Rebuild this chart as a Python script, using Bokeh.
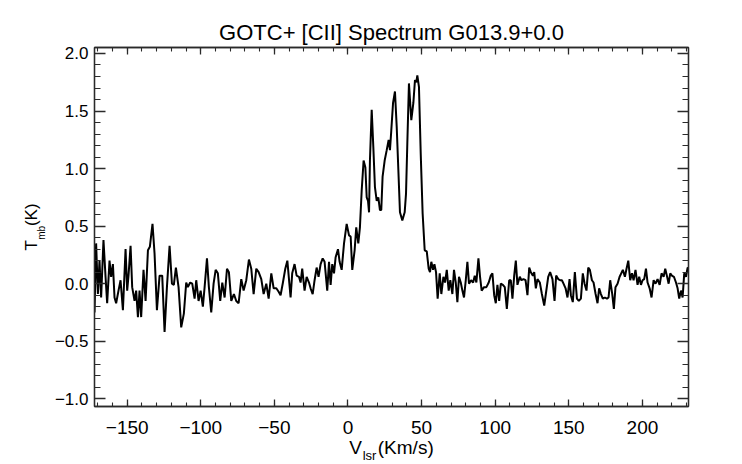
import math
from bokeh.plotting import figure
from bokeh.models import Range1d, LinearAxis, SingleIntervalTicker, CustomJSTickFormatter, Label
from bokeh.embed import file_html
from bokeh.resources import INLINE

# ---- data (V_lsr in km/s, T_mb in K) ----
velocity = [
    -172.2, -171.1, -169.9, -168.8, -167.7, -166.1, -164.7, -163.6, -162.0, -160.9,
    -159.7, -158.6, -157.5, -155.9, -154.5, -152.9, -151.1, -150.0, -149.1, -147.7,
    -146.6, -145.0, -143.9, -142.7, -141.6, -140.5, -138.9, -137.5, -135.9, -134.6,
    -132.8, -131.4, -129.8, -128.0, -126.2, -124.6, -123.0, -121.2, -119.6, -118.3,
    -116.9, -115.1, -113.3, -111.5, -109.9, -108.8, -107.2, -105.8, -104.2, -103.1,
    -101.5, -100.1, -98.6, -97.4, -95.8, -94.5, -92.9, -91.3, -89.9, -88.4,
    -86.8, -85.4, -83.8, -82.2, -80.9, -79.3, -77.5, -75.9, -74.3, -72.5,
    -70.9, -69.1, -67.3, -65.7, -64.1, -62.3, -60.7, -58.9, -57.3, -55.5,
    -53.9, -52.1, -50.5, -48.7, -47.1, -45.8, -44.2, -42.6, -41.2,
    -39.0, -37.9, -36.3, -34.9, -33.3, -32.2, -31.1, -29.5, -28.1, -26.5,
    -25.4, -24.0, -22.7, -21.3, -20.0, -18.6, -17.2, -15.9, -14.1, -12.9,
    -11.8, -10.7, -9.5, -8.4, -6.8, -5.7, -4.3, -2.7, -0.9, 0.7,
    1.8, 2.9, 4.5, 5.6, 7.0, 8.1, 9.3, 10.6, 11.8, 12.7,
    13.6, 14.3, 14.9, 16.1, 17.2, 18.3, 19.5, 20.6, 21.7, 22.6,
    23.5, 24.9, 26.3, 27.6, 28.5, 29.4, 30.6, 31.9, 33.1, 34.2,
    35.3, 36.9, 38.5, 39.4, 40.3, 41.4, 43.0, 44.4, 45.5, 46.4,
    47.1, 48.2, 49.4, 50.7, 52.1, 53.5, 54.8, 55.7, 56.6, 57.8,
    58.7, 59.8, 60.9, 62.3, 63.4, 64.8, 65.9, 67.1, 68.4, 69.5,
    70.9, 72.0, 73.2, 74.3, 75.4, 76.6, 77.7, 78.8, 80.0, 81.1,
    82.2, 83.6, 85.0, 86.1, 87.2, 88.6, 89.7, 90.8, 92.4, 94.0,
    95.6,
    97.0, 98.1, 99.3, 100.4, 101.5, 102.7, 103.8, 105.2, 106.5, 107.9,
    109.5, 110.6, 111.7, 112.9, 114.0, 115.1, 116.7, 117.8, 119.2, 120.6,
    121.9, 123.1, 124.2, 125.6, 126.5, 127.6, 128.7, 130.3, 131.7, 133.3,
    134.6, 136.0, 137.3, 138.9, 140.3, 141.4, 142.8, 144.1, 145.3, 146.4,
    147.8, 149.1, 150.5, 151.4, 152.7, 154.1, 155.5, 156.8, 158.2, 159.5,
    160.7, 162.0, 163.2, 164.3, 165.7, 166.8, 168.2, 169.5, 170.6, 171.8,
    173.1, 174.5, 175.9, 177.0, 178.1, 179.5, 180.6, 181.7, 183.1, 184.5,
    185.6, 186.7, 188.1, 189.2, 190.4, 191.7, 192.9, 194.0, 195.3, 196.7,
    197.8, 199.0, 200.1, 201.2, 202.4, 203.5, 204.9, 206.2, 207.6, 208.9,
    210.3, 211.7, 213.0, 214.4, 215.5, 216.6, 217.8, 218.9, 220.0, 221.4,
    222.8, 223.9, 225.0, 226.2, 227.3, 228.4, 229.6, 230.7, 232.1,
]
tmb = [
    -0.25, 0.35, -0.09, 0.20, -0.12, 0.38, 0.06, -0.17, 0.20, 0.06,
    0.17, -0.12, -0.17, -0.06, 0.03, -0.23, 0.30, -0.06, 0.07, 0.33,
    -0.03, -0.15, -0.06, -0.29, -0.06, -0.29, 0.12, -0.15, 0.29, 0.32,
    0.52, 0.26, -0.23, 0.07, 0.07, -0.42, -0.03, 0.33, 0.00, -0.01,
    0.14, -0.03, -0.38, -0.26, 0.01, -0.03, 0.01, 0.00, -0.13, 0.03,
    -0.15, -0.06, -0.20, -0.03, 0.22, -0.03, -0.25, 0.00, 0.12, 0.09,
    -0.15, 0.01, -0.12, 0.13, 0.10, -0.15, -0.09, -0.15, -0.17, 0.04,
    -0.06, 0.03, 0.21, 0.13, -0.09, 0.13, 0.10, 0.04, -0.09, 0.00,
    -0.13, 0.09, -0.04, -0.04, -0.07, -0.10, 0.01, 0.13, 0.20,
    -0.12, 0.09, 0.17, 0.07, 0.06, 0.01, 0.13, -0.06, 0.06, 0.01,
    -0.04, -0.09, 0.03, 0.14, 0.06, 0.17, 0.22, 0.19, -0.06, 0.19,
    -0.01, 0.17, 0.09, 0.23, 0.30, 0.19, 0.12, 0.35, 0.52, 0.42,
    0.41, 0.12, 0.29, 0.49, 0.35, 0.49, 0.81, 1.07, 1.01, 0.75,
    0.72, 0.62, 1.07, 1.51, 1.19, 0.84, 0.72, 0.75, 0.64, 0.64,
    0.93, 1.07, 1.16, 1.25, 1.16, 1.33, 1.57, 1.67, 1.36, 0.99,
    0.62, 0.55, 0.62, 0.78, 1.22, 1.74, 1.42, 1.57, 1.77, 1.75,
    1.81, 1.71, 1.13, 0.61, 0.29, 0.28, 0.13, 0.10, 0.19, 0.12,
    0.17, 0.10, -0.13, 0.09, -0.09, 0.06, 0.01, 0.12, -0.06, 0.03,
    -0.09, 0.12, 0.01, -0.16, 0.06, 0.01, -0.06, -0.12, 0.03, 0.19,
    0.00, 0.03, 0.01, 0.07, 0.01, 0.22, 0.06, -0.06, -0.03, -0.03,
    0.01,
    0.07, 0.09, -0.10, -0.17, -0.01, -0.15, 0.00, -0.01, -0.03, -0.22,
    0.03, 0.03, -0.13, 0.07, 0.20, -0.01, 0.06, 0.03, 0.04, 0.03,
    -0.10, 0.14, 0.10, 0.07, 0.10, -0.04, 0.04, 0.01, -0.09, -0.19,
    -0.07, 0.06, 0.10, 0.04, -0.15, 0.07, 0.04, 0.03, 0.03, 0.00,
    -0.04, -0.12, 0.04, -0.10, -0.16, 0.10, -0.13, -0.15, -0.13, 0.09,
    0.00, -0.06, 0.14, 0.12, 0.03, 0.01, -0.09, -0.17, -0.04, -0.09,
    -0.13, -0.12, -0.13, -0.12, 0.03, -0.09, -0.22, -0.03, 0.00, 0.06,
    0.09, 0.12, 0.06, 0.13, 0.20, 0.03, 0.09, 0.03, 0.12, -0.01,
    0.06, -0.01, 0.03, 0.04, 0.13, 0.01, -0.04, -0.12, 0.03, 0.00,
    0.04, -0.01, 0.09, 0.06, 0.13, 0.07, 0.00, 0.09, 0.07, 0.06,
    0.01, -0.04, -0.13, -0.06, -0.12, 0.09, 0.06, 0.14, 0.13,
]

title_text = "GOTC+ [CII] Spectrum G013.9+0.0"
x_label_main = "V\u00a0\u00a0\u00a0(Km/s)"
x_label_sub = "lsr"
y_label_main = "T\u00a0\u00a0\u00a0(K)"
y_label_sub = "mb"
x_range_limits = (-172.2, 231.3)
y_range_limits = (-1.067, 2.052)
x_major_interval = 50
y_major_interval = 0.5

FONT = "Liberation Sans"
AXC = "#2a2a2a"

p = figure(width=742, height=464,
           x_range=Range1d(*x_range_limits), y_range=Range1d(*y_range_limits),
           output_backend="svg", toolbar_location=None,
           min_border_left=94, min_border_right=54,
           min_border_top=47, min_border_bottom=58)
p.title.visible = False
p.background_fill_color = "white"
p.border_fill_color = "white"
p.outline_line_color = AXC
p.outline_line_width = 1.3
p.xgrid.visible = False
p.ygrid.visible = False

xfmt = CustomJSTickFormatter(code="return (tick < -1e-9 ? '\\u2212' : '') + Math.abs(tick).toFixed(0);")
yfmt = CustomJSTickFormatter(code="return (tick < -1e-9 ? '\\u2212' : '') + Math.abs(tick).toFixed(1);")


def style(ax, major_in, minor_in):
    ax.axis_line_color = AXC
    ax.axis_line_width = 1.3
    ax.major_tick_line_color = AXC
    ax.minor_tick_line_color = AXC
    ax.major_tick_line_width = 1.3
    ax.minor_tick_line_width = 1.1
    ax.major_tick_in = major_in
    ax.major_tick_out = 0
    ax.minor_tick_in = minor_in
    ax.minor_tick_out = 0
    ax.major_label_text_font = FONT
    ax.major_label_text_color = "black"
    ax.axis_label_text_font = FONT
    ax.axis_label_text_font_style = "normal"
    ax.axis_label_text_color = "black"


xa = p.xaxis[0]
xa.ticker = SingleIntervalTicker(interval=x_major_interval, num_minor_ticks=5)
xa.formatter = xfmt
style(xa, 7, 4)
xa.major_label_text_font_size = "19px"
xa.major_label_standoff = 14
xa.axis_label = x_label_main
xa.axis_label_text_font_size = "19px"
xa.axis_label_standoff = 0

ya = p.yaxis[0]
ya.ticker = SingleIntervalTicker(interval=y_major_interval, num_minor_ticks=5)
ya.formatter = yfmt
style(ya, 11, 6)
ya.major_label_text_font_size = "17px"
ya.major_label_standoff = 6
ya.axis_label = y_label_main
ya.axis_label_text_font_size = "17px"
ya.axis_label_standoff = 11

blank = CustomJSTickFormatter(code="return '';")
top = LinearAxis(ticker=SingleIntervalTicker(interval=x_major_interval, num_minor_ticks=5), formatter=blank)
style(top, 7, 4)
top.major_label_text_font_size = "1px"
top.major_label_standoff = 0
p.add_layout(top, "above")

right = LinearAxis(ticker=SingleIntervalTicker(interval=y_major_interval, num_minor_ticks=5), formatter=blank)
style(right, 11, 6)
right.major_label_text_font_size = "1px"
right.major_label_standoff = 0
p.add_layout(right, "right")

p.line(velocity, tmb, line_color="black", line_width=2)

# title and subscripts: labels placed in side panels (not clipped), positioned in data units
p.add_layout(Label(x=29.55, y=2.182, text=title_text,
                   text_font=FONT, text_font_size="22px", text_color="black",
                   text_align="center", text_baseline="middle"), "above")
p.add_layout(Label(x=10.0, y=-1.489, text=x_label_sub,
                   text_font=FONT, text_font_size="13px", text_color="black",
                   text_align="left", text_baseline="middle"), "right")
p.add_layout(Label(x=-207.9, y=0.381, text=y_label_sub,
                   text_font=FONT, text_font_size="10px", text_color="black",
                   angle=math.pi / 2, text_align="left", text_baseline="middle"), "right")

open("out.html", "w").write(file_html(p, INLINE))
